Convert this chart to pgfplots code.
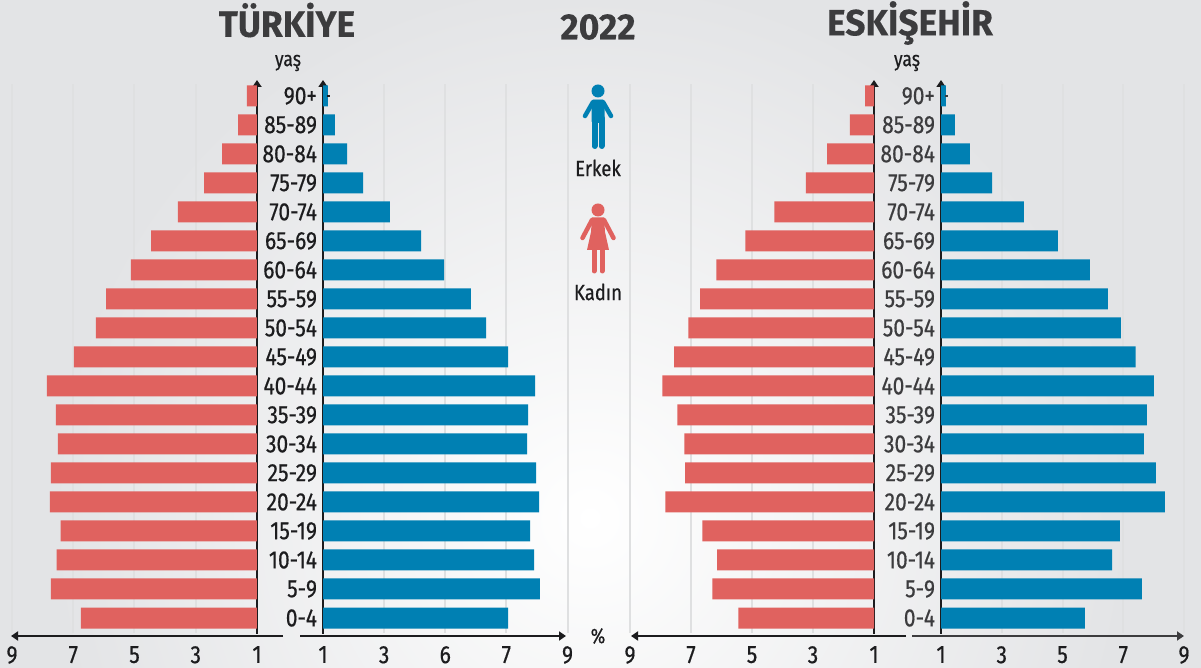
\documentclass[border=0pt]{standalone}
\usepackage{fontspec}
\usepackage{pgfplots}
\usepackage{pgfplotstable}
\pgfplotsset{compat=1.18}
\usetikzlibrary{arrows.meta}
\setmainfont{Fira Sans}[FakeStretch=0.84,FakeBold=0.5]
\newfontfamily\titlefont{Fira Sans}[FakeStretch=0.97,BoldFeatures={FakeBold=0.2}]
\definecolor{kadin}{HTML}{E0625F}
\definecolor{erkek}{HTML}{0080B3}
\definecolor{gridc}{HTML}{DFE0E1}
\definecolor{ink}{HTML}{1C1C1E}
\definecolor{ink2}{HTML}{3C3C3E}
\definecolor{bgout}{HTML}{E3E4E6}
\pgfplotstableread{
i  trk   tre   esk   ese
0  6.75  7.06  5.45  5.74
1  7.73  8.10  6.30  7.61
2  7.54  7.91  6.14  6.63
3  7.41  7.78  6.63  6.89
4  7.76  8.07  7.84  8.37
5  7.73  7.97  7.19  8.07
6  7.50  7.68  7.22  7.68
7  7.57  7.71  7.45  7.78
8  7.86  7.94  7.94  8.01
9  6.98  7.06  7.55  7.41
10 6.26  6.34  7.09  6.92
11 5.93  5.84  6.70  6.49
12 5.12  4.96  6.17  5.90
13 4.46  4.21  5.22  4.85
14 3.58  3.19  4.27  3.73
15 2.73  2.31  3.23  2.68
16 2.14  1.79  2.54  1.95
17 1.62  1.39  1.79  1.46
18 1.33  1.16  1.29  1.16
}\pop
\pgfplotsset{
 panel/.style={
  scale only axis, height=549pt, ymin=-0.517, ymax=18.41, xmin=1, xmax=9,
  anchor=south west, xbar, bar width=21pt, bar shift=0pt,
  axis line style={draw=none}, major tick length=0pt, minor tick length=0pt,
  minor xtick={3,5,7,9}, minor x grid style={gridc, line width=2pt}, xminorgrids=true,
  xtick={1,3,5,7,9},
  tick label style={font=\fontsize{25}{25}\selectfont},
  xticklabel style={text=ink, inner ysep=0pt, yshift=-13pt},
  ytick=\empty,
 },
 ages/.style={
  ytick={0,...,18},
  yticklabels={0-4,5-9,10-14,15-19,20-24,25-29,30-34,35-39,40-44,45-49,50-54,55-59,60-64,65-69,70-74,75-79,80-84,85-89,90+},
 },
}
\begin{document}
\begin{tikzpicture}[x=1pt,y=1pt]
\useasboundingbox (0,0) rectangle (1201,668);
\fill[bgout] (0,0) rectangle (1201,668);
\begin{scope}
 \clip (0,0) rectangle (1201,668);
 \shade[inner color=white, outer color=bgout] (590,150) circle (540);
\end{scope}
% zero lines
\foreach \xx in {257,323,874,941}{
 \draw[ink, line width=2.4pt, -{Triangle[length=7pt,width=9pt]}] (\xx,34) -- (\xx,588);
}
% axes
\begin{axis}[panel, at={(12pt,35pt)}, width=245pt, x dir=reverse, xticklabels={1,3,5,7,9}]
 \addplot[fill=kadin, draw=none] table[x=trk,y=i]{\pop};
\end{axis}
\begin{axis}[panel, ages, at={(323pt,35pt)}, width=244.5pt, xticklabels={1,3,6,7,9}, yticklabel style={text=ink, xshift=-2.5pt}]
 \addplot[fill=erkek, draw=none] table[x=tre,y=i]{\pop};
\end{axis}
\begin{axis}[panel, at={(630pt,35pt)}, width=244pt, x dir=reverse, xticklabels={1,3,5,7,9}]
 \addplot[fill=kadin, draw=none] table[x=esk,y=i]{\pop};
\end{axis}
\begin{axis}[panel, ages, at={(941pt,35pt)}, width=243pt, xticklabels={1,3,5,7,9}, yticklabel style={text=ink2, xshift=-2.5pt}]
 \addplot[fill=erkek, draw=none] table[x=ese,y=i]{\pop};
\end{axis}
% small ticks at 90+
\draw[ink, line width=1.5pt] (327,572) -- (330,572);
\draw[ink2, line width=1.5pt] (945,572) -- (948,572);
% horizontal arrows
\draw[ink, line width=2.2pt, -{Triangle[length=7pt,width=9pt]}] (283,32) -- (11,32);
\draw[ink, line width=2.2pt, -{Triangle[length=7pt,width=9pt]}] (300,32) -- (566,32);
\draw[ink, line width=2.2pt, -{Triangle[length=7pt,width=9pt]}] (906,32) -- (631,32);
\draw[ink2, line width=2.2pt, -{Triangle[length=7pt,width=9pt]}] (912,32) -- (1184,32);
% titles
\node[text=ink2] at (287,648) {\titlefont\bfseries\fontsize{36.5}{36.5}\selectfont TÜRKİYE};
\node[text=ink2] at (598,641) {\titlefont\bfseries\fontsize{36.5}{36.5}\selectfont 2022};
\node[text=ink2] at (910,645) {\titlefont\bfseries\fontsize{36.5}{36.5}\selectfont ESKİŞEHİR};
\node[text=ink] at (288,605) {\fontsize{21}{21}\selectfont yaş};
\node[text=ink] at (907,605) {\fontsize{21}{21}\selectfont yaş};
\node[text=ink] at (598,500) {\fontsize{22}{22}\selectfont Erkek};
\node[text=ink] at (598,376) {\fontsize{22}{22}\selectfont Kadın};
\node[text=ink] at (598,32) {\fontsize{21}{21}\selectfont \%};
% erkek icon
\fill[erkek] (598,577) circle (6.5);
\draw[erkek, line width=4.5pt, line cap=round, line join=round] (585,552) -- (593,566) -- (603,566) -- (611,552);
\fill[erkek, rounded corners=1.5pt] (591.5,568) rectangle (604.5,545);
\draw[erkek, line width=6pt, line cap=round] (594.5,550) -- (594.5,522);
\draw[erkek, line width=6pt, line cap=round] (601.5,550) -- (601.5,522);
% kadin icon
\fill[kadin] (598,458) circle (6.5);
\draw[kadin, line width=4.5pt, line cap=round, line join=round] (582.5,430) -- (592,448);
\draw[kadin, line width=4.5pt, line cap=round, line join=round] (613.5,430) -- (604,448);
\fill[kadin] (592,450.5) -- (604,450.5) -- (605,436) -- (609,418) -- (587,418) -- (591,436) -- cycle;
\draw[kadin, line width=5pt, line cap=round] (594,420) -- (594,397);
\draw[kadin, line width=5pt, line cap=round] (602,420) -- (602,397);
\end{tikzpicture}
\end{document}
